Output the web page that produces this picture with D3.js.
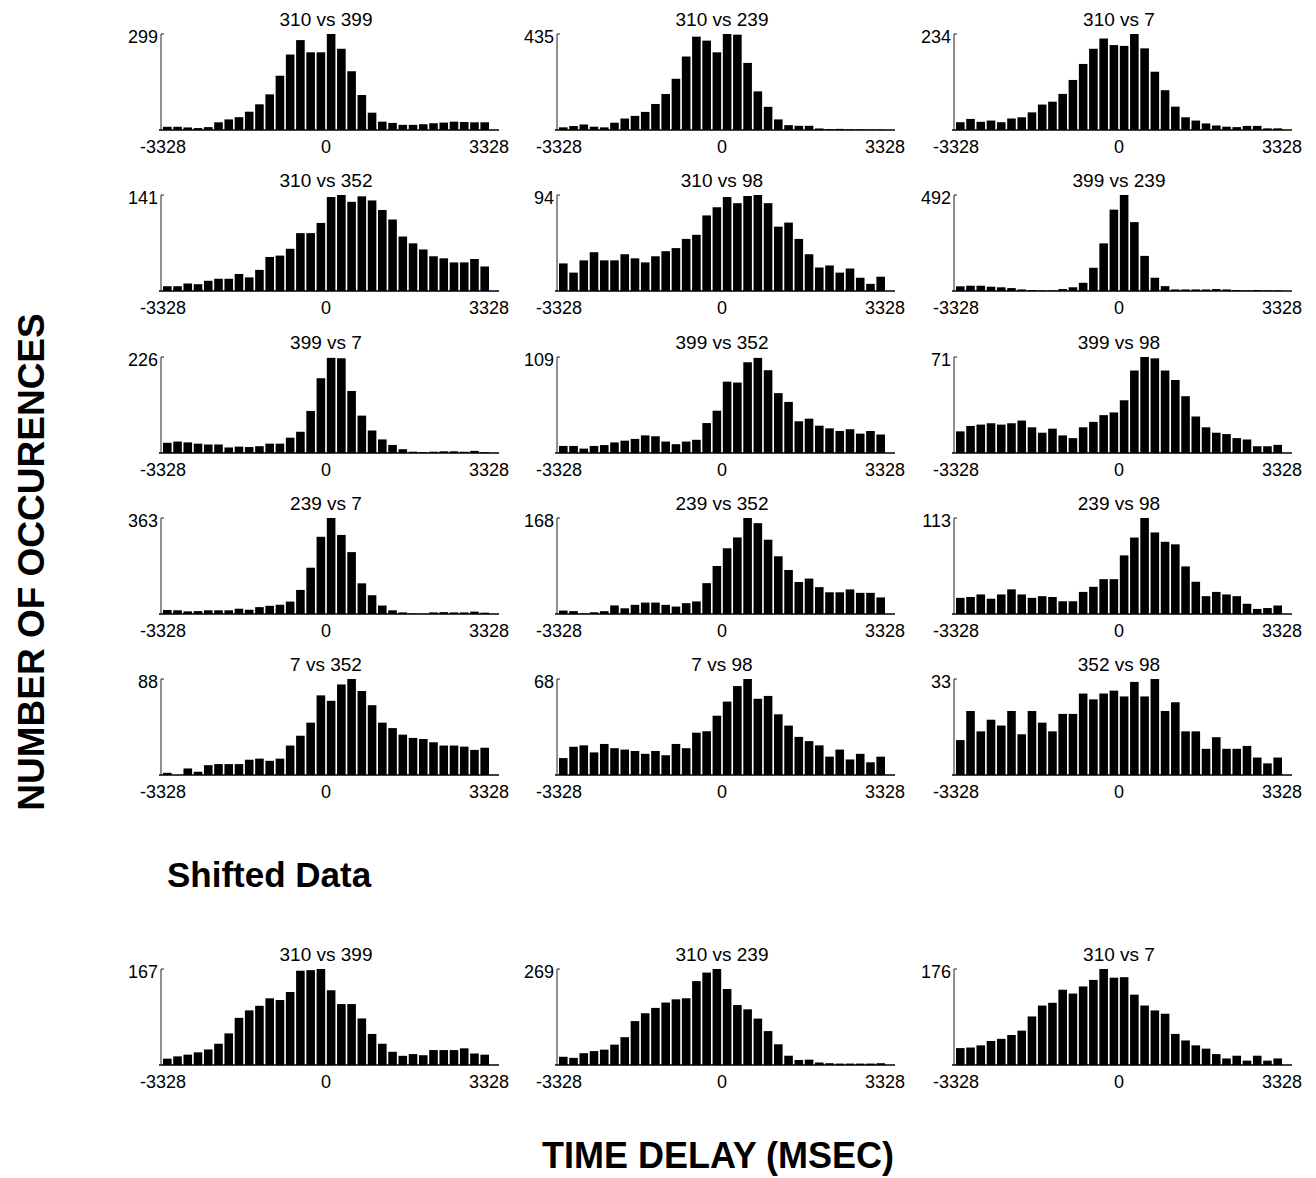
<!DOCTYPE html>
<html>
<head>
<meta charset="utf-8">
<script src="https://cdn.jsdelivr.net/npm/d3@7"></script>
<style>
  body { margin: 0; background: #fff; }
  text { font-family: "Liberation Sans", Arial, sans-serif; fill: #000; }
</style>
</head>
<body>
<script>
const width = 1316;
const height = 1178;

// tick labels of every x axis (ms)
const xTicks = [-3328, 0, 3328];

// counts per 208 ms bin, 32 bins from -3328 to 3328
const c310_399 = [10,10,8,6,9,24,33,40,57,80,111,169,235,280,242,242,299,253,183,109,54,26,22,16,16,18,21,23,26,25,24,24];
const c310_239 = [12,18,25,15,12,33,52,64,82,118,163,232,333,423,405,352,435,432,304,175,105,48,22,19,19,7,4,5,3,3,2,2];
const c310_7   = [19,27,20,23,19,28,31,43,62,69,88,122,161,198,223,207,205,234,199,142,97,57,31,23,16,11,8,7,10,10,4,4];
const c310_352 = [7,7,11,10,15,18,18,25,20,31,50,52,62,85,85,100,138,141,131,139,133,119,105,80,70,61,51,48,42,42,47,36];
const c310_98  = [27,18,30,38,30,30,36,32,28,34,39,42,51,55,74,82,92,86,93,94,86,63,67,51,36,23,25,18,22,13,7,14];
const c399_239 = [24,27,27,22,19,15,8,5,3,3,10,19,42,119,244,417,492,353,180,68,25,8,8,8,8,10,8,5,3,5,3,3];
const c399_7   = [24,27,25,22,20,20,13,15,14,16,22,22,36,50,99,176,224,223,146,88,53,32,19,9,3,2,3,4,4,3,5,2];
const c399_352 = [8,8,5,8,9,12,14,16,20,19,13,10,13,15,34,48,81,80,103,108,94,68,58,36,39,31,28,25,27,22,25,21];
const c399_98  = [16,20,21,22,21,22,24,19,15,18,13,11,19,23,28,30,39,61,71,70,61,54,42,27,19,15,14,11,10,5,5,6];
const c239_7   = [15,14,10,11,14,14,14,20,16,26,31,35,47,91,175,292,363,299,234,116,71,32,14,6,2,1,6,7,6,6,9,5];
const c239_352 = [6,5,1,3,5,15,10,16,20,20,16,13,19,22,54,84,115,134,168,159,130,101,77,56,62,47,38,38,43,37,37,29];
const c239_98  = [19,20,23,18,23,29,23,19,21,20,15,15,26,32,41,41,69,90,113,96,85,82,56,38,21,26,23,21,12,6,7,10];
const c7_352   = [2,0,6,3,9,10,10,10,14,15,13,15,27,36,48,73,68,83,88,77,64,48,43,37,34,33,30,27,27,26,23,25];
const c7_98    = [12,20,21,16,22,19,18,17,15,17,14,22,19,30,31,42,52,63,68,54,56,43,35,27,24,21,13,18,11,15,9,13];
const c352_98  = [12,22,15,19,17,22,14,22,18,15,21,21,28,26,28,29,27,32,27,33,22,25,15,15,9,13,9,9,10,6,4,6];

// shifted data
const s310_399 = [11,15,18,22,27,37,55,82,95,103,116,113,127,164,165,167,130,106,106,81,54,37,23,16,19,17,26,26,26,29,20,18];
const s310_239 = [23,20,33,39,43,57,78,123,145,160,175,184,187,235,259,269,213,168,156,130,95,58,26,14,15,7,5,4,4,4,4,5];
const s310_7   = [31,32,36,44,48,55,63,89,109,114,138,131,144,156,176,160,161,129,109,100,94,57,45,36,30,20,12,17,8,17,8,12];

const titles = ["310 vs 399","310 vs 239","310 vs 7",
                "310 vs 352","310 vs 98","399 vs 239",
                "399 vs 7","399 vs 352","399 vs 98",
                "239 vs 7","239 vs 352","239 vs 98",
                "7 vs 352","7 vs 98","352 vs 98",
                "310 vs 399","310 vs 239","310 vs 7"];
const yMax = [299,435,234, 141,94,492, 226,109,71, 363,168,113, 88,68,33, 167,269,176];
const series = [c310_399,c310_239,c310_7, c310_352,c310_98,c399_239,
                c399_7,c399_352,c399_98, c239_7,c239_352,c239_98,
                c7_352,c7_98,c352_98, s310_399,s310_239,s310_7];

// layout
const colX = [161, 557, 954];
const rowBase = [130, 291, 453, 614, 775, 1065];
const plotW = 328;
const plotH = 96;

const svg = d3.select("body").append("svg")
  .attr("width", width)
  .attr("height", height);

series.forEach(function(vals, i) {
  const x0 = colX[i % 3];
  const base = rowBase[Math.floor(i / 3)];

  const x = d3.scaleLinear().domain([-3328, 3328]).range([x0 + 2, x0 + plotW]);
  const xb = d3.scaleBand().domain(d3.range(vals.length)).range([x0 + 2, x0 + plotW]).paddingInner(0.16);
  const y = d3.scaleLinear().domain([0, yMax[i]]).range([base, base - plotH]);

  const g = svg.append("g").attr("class", "panel");

  g.append("g").selectAll("rect")
    .data(vals)
    .enter().append("rect")
      .attr("x", function(d, j) { return xb(j); })
      .attr("width", xb.bandwidth())
      .attr("y", function(d) { return y(d); })
      .attr("height", function(d) { return base - y(d); })
      .attr("fill", "#000");

  // x axis line
  g.append("line")
    .attr("x1", x0 - 2).attr("x2", x0 + plotW + 10)
    .attr("y1", base).attr("y2", base)
    .attr("stroke", "#000").attr("stroke-width", 1.6);

  // y axis, only the max is labelled
  g.append("path")
    .attr("d", "M" + (x0 + 3) + "," + y(yMax[i]) + "H" + x0 + "V" + base)
    .attr("fill", "none").attr("stroke", "#222").attr("stroke-width", 1);

  g.append("text")
    .attr("x", x0 - 3).attr("y", y(yMax[i]) + 3)
    .attr("dy", "0.35em")
    .attr("text-anchor", "end")
    .style("font-size", "18px")
    .text(yMax[i]);

  g.selectAll("text.tick")
    .data(xTicks)
    .enter().append("text")
      .attr("class", "tick")
      .attr("x", function(d) { return x(d); })
      .attr("y", base + 23)
      .attr("text-anchor", "middle")
      .style("font-size", "18px")
      .text(function(d) { return d; });

  g.append("text")
    .attr("x", x(0)).attr("y", base - plotH - 8)
    .attr("text-anchor", "middle")
    .style("font-size", "19px")
    .text(titles[i]);
});

svg.append("text")
  .attr("x", 167).attr("y", 887)
  .style("font-size", "35px").style("font-weight", "bold")
  .text("Shifted Data");

svg.append("text")
  .attr("transform", "translate(44,562) rotate(-90)")
  .attr("text-anchor", "middle")
  .style("font-size", "37px").style("font-weight", "bold")
  .text("NUMBER OF OCCURENCES");

svg.append("text")
  .attr("x", 718).attr("y", 1168)
  .attr("text-anchor", "middle")
  .style("font-size", "36px").style("font-weight", "bold")
  .text("TIME DELAY (MSEC)");
</script>
</body>
</html>
